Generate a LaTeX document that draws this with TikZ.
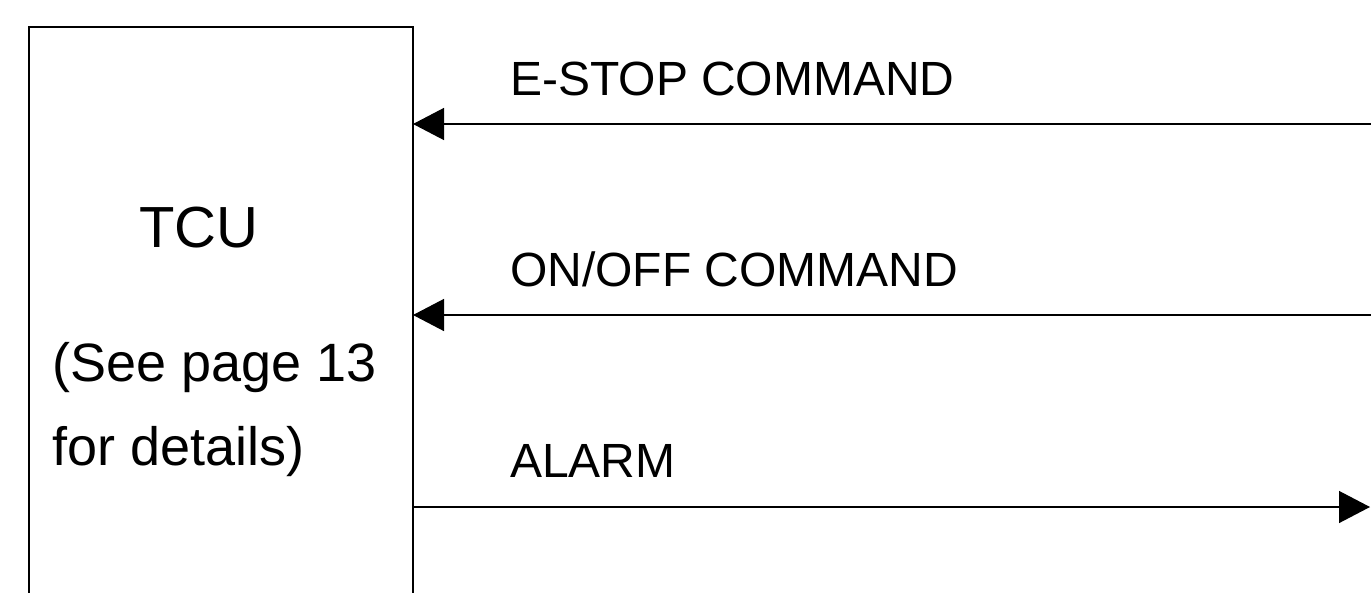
\documentclass[tikz,border=0pt]{standalone}
\usepackage{fontspec}
\setmainfont{Liberation Sans}
\usetikzlibrary{arrows.meta}
\begin{document}
\begin{tikzpicture}[x=1pt,y=-1pt,
  unit/.style={draw,line width=1.6pt,minimum width=384pt,minimum height=600pt,inner sep=0pt,outer sep=0pt},
  signal/.style={line width=1.3pt,-{Triangle[length=31pt,width=32pt]}},
  lbl/.style={font=\fontsize{48}{48}\selectfont,anchor=base west,inner sep=0pt},
  boxtext/.style={font=\fontsize{54}{54}\selectfont,anchor=base west,inner sep=0pt}]
\useasboundingbox (0,0) rectangle (1371,592);
\clip (0,0) rectangle (1371,592);
% controller block (runs off the bottom edge)
\node[unit,anchor=north west] (tcu) at (29,27) {};
\node[font=\fontsize{58}{58}\selectfont,anchor=base west,inner sep=0pt] (name) at (139,247) {TCU};
\node[boxtext] (ref1) at (52,381) {(See page 13};
\node[boxtext] (ref2) at (52,465) {for details)};
% far ends of the signal lines
\coordinate (estopsrc) at (1371,124);
\coordinate (onoffsrc) at (1371,315);
\coordinate (alarmdst) at (1370,507);
\draw[signal] (estopsrc) -- (estopsrc -| tcu.east);
\draw[signal] (onoffsrc) -- (onoffsrc -| tcu.east);
\draw[signal] (alarmdst -| tcu.east) -- (alarmdst);
\node[lbl] (estop) at (510,95) {E-STOP COMMAND};
\node[lbl] (onoff) at (510,286) {ON/OFF COMMAND};
\node[lbl] (alarm) at (510,477) {ALARM};
\end{tikzpicture}
\end{document}
